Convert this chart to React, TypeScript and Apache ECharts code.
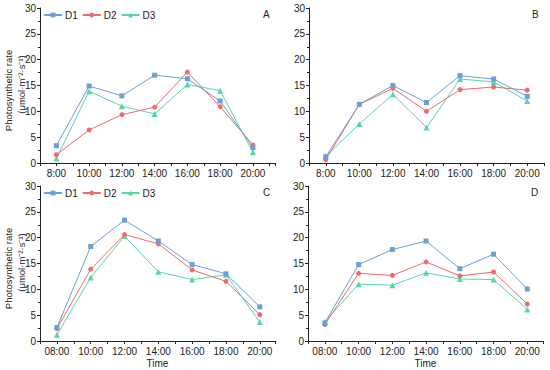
import React, { useEffect, useRef } from "react";
import * as echarts from "echarts";

const timesAB = ["8:00", "10:00", "12:00", "14:00", "16:00", "18:00", "20:00"];
const timesCD = ["08:00", "10:00", "12:00", "14:00", "16:00", "18:00", "20:00"];
const seriesNames = ["D1", "D2", "D3"];
const yTicks = [0, 5, 10, 15, 20, 25, 30];

const A_D1 = [3.35, 14.9, 13.0, 17.0, 16.3, 12.0, 3.0];
const A_D2 = [1.6, 6.4, 9.35, 10.8, 17.6, 10.9, 3.5];
const A_D3 = [0.85, 13.9, 11.0, 9.5, 15.2, 14.0, 2.1];

const B_D1 = [1.2, 11.35, 15.0, 11.7, 16.9, 16.25, 12.9];
const B_D2 = [0.65, 11.35, 14.45, 10.0, 14.2, 14.7, 14.1];
const B_D3 = [1.3, 7.55, 13.3, 6.85, 16.25, 15.7, 12.0];

const C_D1 = [2.6, 18.3, 23.4, 19.35, 14.8, 13.0, 6.6];
const C_D2 = [2.4, 13.9, 20.6, 18.8, 13.75, 11.55, 5.1];
const C_D3 = [1.2, 12.3, 20.3, 13.4, 11.9, 12.8, 3.7];

const D_D1 = [3.5, 14.8, 17.7, 19.35, 14.0, 16.8, 10.05];
const D_D2 = [3.2, 13.1, 12.7, 15.3, 12.6, 13.35, 7.15];
const D_D3 = [3.7, 11.0, 10.8, 13.2, 12.0, 11.9, 6.1];

const colors = ["#6a9fd8", "#f06a6c", "#52d9a3"];
const symbols = ["rect", "circle", "triangle"];

const panels = [
  { letter: "A", times: timesAB, data: [A_D1, A_D2, A_D3], max: 21.35, legend: true, time: false },
  { letter: "B", times: timesAB, data: [B_D1, B_D2, B_D3], max: 21, legend: false, time: false },
  { letter: "C", times: timesCD, data: [C_D1, C_D2, C_D3], max: 20.9, legend: true, time: true },
  { letter: "D", times: timesCD, data: [D_D1, D_D2, D_D3], max: 20.93, legend: false, time: true },
];

const grids = [
  { left: 40, top: 8, width: 235, height: 155 },
  { left: 309, top: 8, width: 235, height: 155 },
  { left: 40, top: 186, width: 235, height: 155 },
  { left: 308, top: 186, width: 235, height: 155 },
];

const FONT = "Liberation Sans, Arial, sans-serif";

export default function App() {
  const ref = useRef<HTMLDivElement>(null);
  useEffect(() => {
    if (!ref.current) return;
    const chart = echarts.init(ref.current, undefined, { renderer: "svg" });
    const axisLineStyle = { color: "#222", width: 1 };

    const xAxis = panels.map((p, i) => ({
      type: "value",
      gridIndex: i,
      min: 7,
      max: p.max,
      interval: 1,
      splitLine: { show: false },
      axisLine: { lineStyle: axisLineStyle, onZero: false },
      axisTick: { show: true, length: 3, inside: false, lineStyle: axisLineStyle },
      axisLabel: {
        fontFamily: FONT,
        fontSize: 10,
        color: "#222",
        margin: 5,
        showMinLabel: true,
        showMaxLabel: true,
        formatter: (v: number) => {
          const idx = p.times.findIndex((t) => parseInt(t, 10) === v);
          return idx >= 0 ? p.times[idx] : "";
        },
      },
      name: p.time ? "Time" : "",
      nameLocation: "middle",
      nameGap: 17,
      nameTextStyle: { fontFamily: FONT, fontSize: 10, color: "#222" },
    }));

    const yAxis = panels.map((p, i) => ({
      type: "value",
      gridIndex: i,
      min: yTicks[0],
      max: yTicks[yTicks.length - 1],
      interval: yTicks[1] - yTicks[0],
      splitLine: { show: false },
      axisLine: { show: true, lineStyle: axisLineStyle },
      axisTick: { show: true, length: 3, lineStyle: axisLineStyle },
      minorTick: { show: true, splitNumber: 2, length: 2, lineStyle: axisLineStyle },
      axisLabel: { fontFamily: FONT, fontSize: 10, color: "#222", margin: 4 },
    }));

    const series: any[] = [];
    panels.forEach((p, i) => {
      p.data.forEach((vals, s) => {
        series.push({
          type: "line",
          name: seriesNames[s],
          xAxisIndex: i,
          yAxisIndex: i,
          data: vals.map((v, k) => [parseInt(p.times[k], 10), v]),
          symbol: symbols[s],
          symbolSize: s === 2 ? 6 : 5,
          showSymbol: true,
          lineStyle: { color: colors[s], width: 1 },
          itemStyle: { color: colors[s] },
          z: 3 - s,
        });
      });
    });

    const legends = panels
      .map((p, i) => ({ p, i }))
      .filter(({ p }) => p.legend)
      .map(({ i }) => ({
        data: seriesNames,
        left: grids[i].left + 3,
        top: grids[i].top + 2,
        orient: "horizontal",
        itemWidth: 18,
        itemHeight: 6,
        itemGap: 4,
        padding: 0,
        selectedMode: false,
        textStyle: { fontFamily: FONT, fontSize: 10, color: "#222", padding: [0, 0, 0, -2] },
      }));

    const graphic: any[] = [];
    panels.forEach((p, i) => {
      const g = grids[i];
      graphic.push({
        type: "text",
        left: g.left + g.width - 12,
        top: g.top + 1,
        style: { text: p.letter, fontFamily: FONT, fontSize: 10, fill: "#222" },
      });
      if (i === 0 || i === 2) {
        const cy = g.top + g.height / 2 + 5;
        graphic.push({
          type: "text",
          x: 8,
          y: cy,
          rotation: Math.PI / 2,
          style: {
            text: "Photosynthetic rate",
            fontFamily: FONT,
            fontSize: 9.5,
            fill: "#222",
            align: "center",
            verticalAlign: "middle",
          },
        });
        graphic.push({
          type: "text",
          x: 21,
          y: cy - 6,
          rotation: Math.PI / 2,
          style: {
            text: "(μmol·m⁻²·s⁻¹)",
            fontFamily: FONT,
            fontSize: 9.5,
            fill: "#222",
            align: "center",
            verticalAlign: "middle",
          },
        });
      }
    });

    chart.setOption({
      animation: false,
      backgroundColor: "#fff",
      grid: grids,
      xAxis,
      yAxis,
      series,
      legend: legends,
      graphic,
    });
    return () => chart.dispose();
  }, []);
  return (
    <div
      ref={ref}
      style={{ position: "absolute", left: 0, top: 0, width: 550, height: 370 }}
    />
  );
}
